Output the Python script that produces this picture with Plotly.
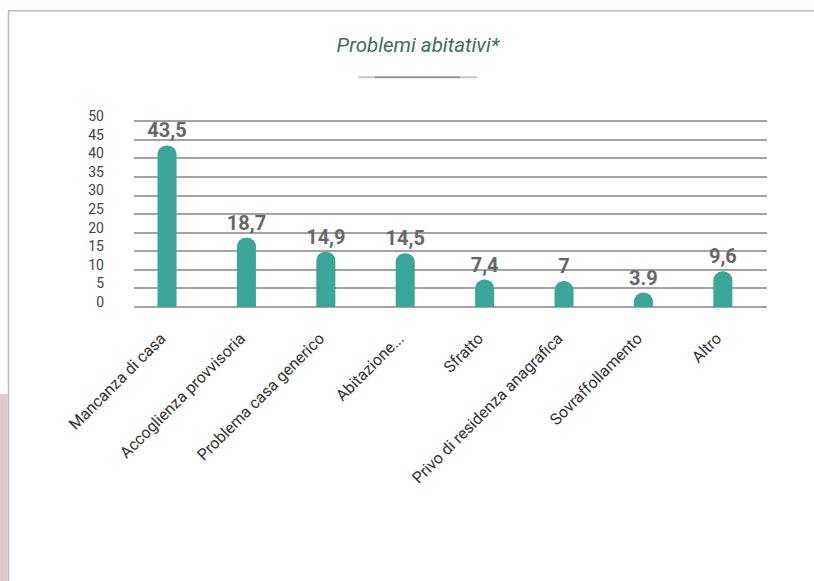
import plotly.graph_objects as go

categories = ["Mancanza di casa", "Accoglienza provvisoria", "Problema casa generico",
              "Abitazione...", "Sfratto", "Privo di residenza anagrafica",
              "Sovraffollamento", "Altro"]
values = [43.5, 18.7, 14.9, 14.5, 7.4, 7.0, 3.9, 9.6]
value_labels = ["43,5", "18,7", "14,9", "14,5", "7,4", "7", "3.9", "9,6"]
y_ticks = [0, 5, 10, 15, 20, 25, 30, 35, 40, 45, 50]

W, H = 814, 581
Y_MAX = 50.6
L, R, B = 134, 767, 307          # plot area in pixels
T = B - (B - 121) * Y_MAX / 50   # so that 50 sits at y=121


def px_x(p):
    return (p - L) / (R - L)


def px_y(p):
    return (B - p) / (B - T)


fig = go.Figure()
fig.add_trace(go.Bar(
    x=list(range(len(categories))), y=values,
    width=0.24,
    marker=dict(color="#3aa699", cornerradius="50%", line=dict(width=0)),
    text=value_labels, textposition="outside", constraintext="none",
    textfont=dict(family="Roboto", size=20, color="#676767", weight="bold"),
    cliponaxis=False, hoverinfo="skip",
))

shapes = [
    # decorative frame
    dict(type="line", xref="paper", yref="paper", x0=px_x(8), x1=px_x(820), y0=px_y(10.5), y1=px_y(10.5),
         line=dict(color="#cdb3b8", width=1.5)),
    dict(type="line", xref="paper", yref="paper", x0=px_x(8.5), x1=px_x(8.5), y0=px_y(10), y1=px_y(590),
         line=dict(color="#cdb3b8", width=1.5)),
    dict(type="rect", xref="paper", yref="paper", x0=px_x(-2), x1=px_x(7.8), y0=px_y(394), y1=px_y(590),
         fillcolor="#dccacc", line=dict(width=0)),
    # title underline
    dict(type="line", xref="paper", yref="paper", x0=px_x(358), x1=px_x(477), y0=px_y(77), y1=px_y(77),
         line=dict(color="#c8c8c8", width=2)),
    dict(type="line", xref="paper", yref="paper", x0=px_x(375), x1=px_x(460), y0=px_y(77), y1=px_y(77),
         line=dict(color="#8a8a8a", width=1.5)),
]

fig.update_layout(
    width=W, height=H,
    margin=dict(l=L, r=W - R, t=T, b=H - B, pad=0),
    paper_bgcolor="white", plot_bgcolor="white",
    showlegend=False,
    shapes=shapes,
    title=dict(text="<i>Problemi abitativi*</i>", x=418 / W, y=1 - 45 / H,
               xanchor="center", yanchor="middle",
               font=dict(family="Roboto", size=20.5, color="#3a6f63")),
    xaxis=dict(
        tickmode="array", tickvals=list(range(len(categories))), ticktext=categories,
        tickangle=-45, range=[-0.416, 7.556], showgrid=False, zeroline=False,
        showline=False, ticks="", ticklabelstandoff=18, ticklabelshift=-6,
        tickfont=dict(family="Roboto", size=16, color="#333333"),
    ),
    yaxis=dict(
        range=[0, Y_MAX], tickmode="array", tickvals=y_ticks,
        showgrid=True, gridcolor="#a3a3a3", gridwidth=1.5,
        zeroline=True, zerolinecolor="#a3a3a3", zerolinewidth=1.5,
        showline=False, ticks="", ticklabelstandoff=29, ticklabelshift=-5,
        tickfont=dict(family="Roboto", size=14, color="#444444"),
    ),
)

fig.write_html("out.html", config={"displayModeBar": False},
               post_script="document.body.style.margin='0';document.body.style.overflow='hidden';")
